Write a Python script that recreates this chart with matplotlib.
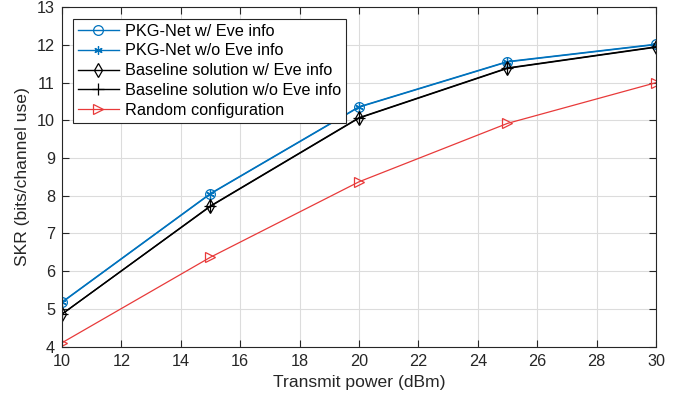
import matplotlib.pyplot as plt

plt.rcParams['font.family'] = ['Liberation Sans', 'DejaVu Sans']

power = [10, 15, 20, 25, 30]
pkg_eve = [5.18, 8.06, 10.36, 11.56, 12.02]
pkg_noeve = [5.17, 8.05, 10.35, 11.55, 12.01]
base_eve = [4.86, 7.73, 10.07, 11.39, 11.95]
base_noeve = [4.86, 7.72, 10.06, 11.38, 11.94]
rand_cfg = [4.1, 6.37, 8.37, 9.92, 11.0]

blue = '#0072BD'
red = '#E83A3A'
dark = '#262626'

fig = plt.figure(figsize=(6.88, 4.03), dpi=100)
ax = fig.add_axes([0.090, 0.140, 0.8635, 0.842])

ax.plot(power, pkg_eve, '-o', color=blue, lw=1, ms=7, mew=0.9, mfc='none', label='PKG-Net w/ Eve info')
ax.plot(power, pkg_noeve, '-', marker=(6, 2, 0), color=blue, lw=1, ms=6, mew=0.9, label='PKG-Net w/o Eve info')
ax.plot(power, base_eve, '-d', color='black', lw=1, ms=7, mew=0.9, mfc='none', label='Baseline solution w/ Eve info')
ax.plot(power, base_noeve, '-+', color='black', lw=1, ms=8, mew=0.9, label='Baseline solution w/o Eve info')
ax.plot(power, rand_cfg, '->', color=red, lw=0.9, ms=7, mew=0.9, mfc='none', label='Random configuration')

ax.set_xlim(10, 30)
ax.set_ylim(4, 13)
ax.set_xticks(range(10, 31, 2))
ax.set_yticks(range(4, 14))
ax.grid(True, color='#dcdcdc', lw=0.8)
ax.set_axisbelow(True)
ax.tick_params(direction='in', top=True, right=True, labelsize=11.7, colors=dark, length=5)
ax.tick_params(axis='x', pad=5)
ax.tick_params(axis='y', pad=5)
for s in ax.spines.values():
    s.set_color(dark)
    s.set_linewidth(0.8)

ax.set_xlabel('Transmit power (dBm)', fontsize=12.6, color=dark, labelpad=5)
ax.set_ylabel('SKR (bits/channel use)', fontsize=12.6, color=dark, labelpad=5)

leg = ax.legend(loc='upper left', fontsize=11.7, fancybox=False, edgecolor=dark,
                framealpha=1, borderaxespad=0.7, handlelength=2.5, labelspacing=0.3,
                borderpad=0.3, handletextpad=0.4)
leg.get_frame().set_linewidth(0.8)

fig.savefig('out.png', dpi=100)
